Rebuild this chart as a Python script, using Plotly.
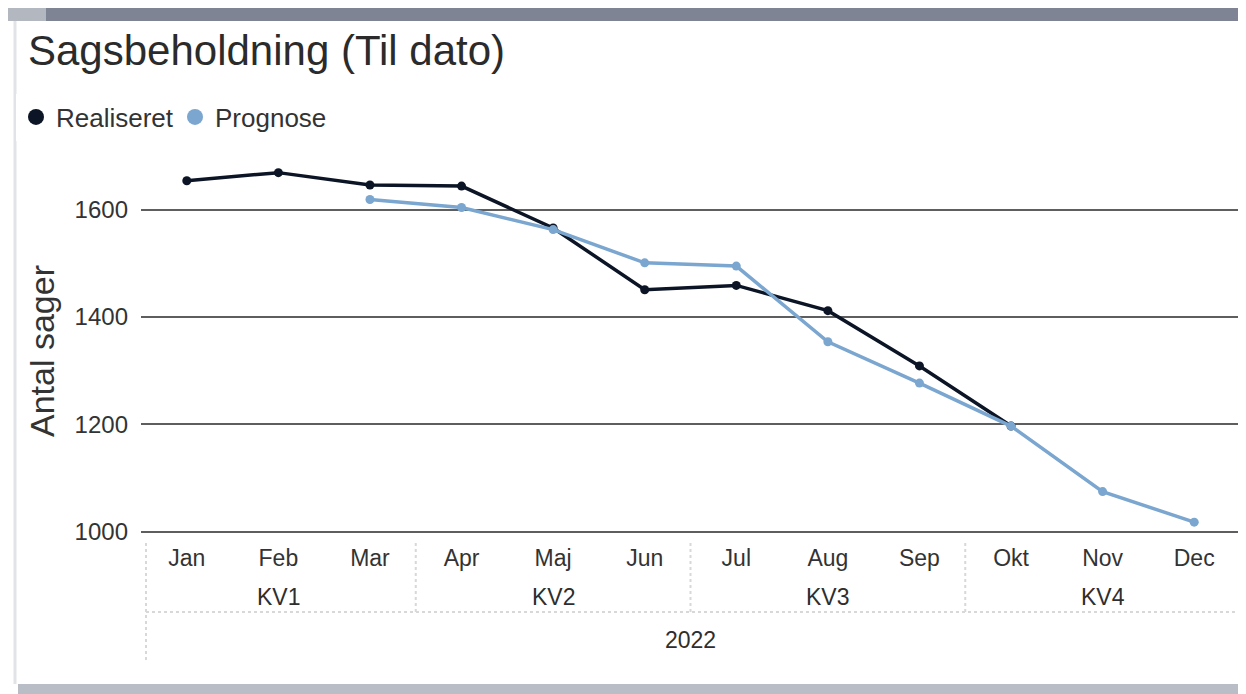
import plotly.graph_objects as go

# data
months = ["Jan", "Feb", "Mar", "Apr", "Maj", "Jun", "Jul", "Aug", "Sep", "Okt", "Nov", "Dec"]
quarters = ["KV1", "KV2", "KV3", "KV4"]
quarter_centers = ["Feb", "Maj", "Aug", "Nov"]
year_label = "2022"
realiseret = [1654, 1669, 1646, 1644, 1566, 1451, 1459, 1412, 1309, 1197, None, None]
prognose = [None, None, 1619, 1604, 1563, 1501, 1495, 1354, 1277, 1197, 1075, 1018]
y_ticks = [1000, 1200, 1400, 1600]

# the page body has an 8px margin, so the figure is drawn 8px smaller and all
# pixel positions below are given in window pixels and shifted by OFF
OFF = 8
W, H = 1246 - OFF, 694 - OFF
L, R, T, B = 141, 1240, 156, 534   # plot area in window pixels
FONT = "Liberation Sans, Arial, sans-serif"
DARK = "#0c1526"
LIGHT = "#7aa6cf"


def px(x):
    return (x - L) / (R - L)


def py(y):
    return (B - y) / (B - T)


fig = go.Figure()

fig.add_trace(go.Scatter(
    x=months, y=realiseret, mode="lines+markers", name="Realiseret",
    line=dict(color=DARK, width=3.5), marker=dict(color=DARK, size=9),
    showlegend=False, connectgaps=False))
fig.add_trace(go.Scatter(
    x=months, y=prognose, mode="lines+markers", name="Prognose",
    line=dict(color=LIGHT, width=3.5), marker=dict(color=LIGHT, size=9),
    showlegend=False, connectgaps=False))

# legend entries (dot only, like the reference)
for name, col in [("Realiseret", DARK), ("Prognose", LIGHT)]:
    fig.add_trace(go.Scatter(x=[None], y=[None], mode="markers", name=name,
                             marker=dict(color=col, size=16)))

shapes = []
# frame: dark band on top, grey band at the bottom, thin side edges
shapes.append(dict(type="rect", xref="paper", yref="paper", x0=px(8), x1=px(46),
                   y0=py(21), y1=py(8), fillcolor="#b3b7c0", line_width=0, layer="below"))
shapes.append(dict(type="rect", xref="paper", yref="paper", x0=px(46), x1=px(1246),
                   y0=py(21), y1=py(8), fillcolor="#7e8494", line_width=0, layer="below"))
shapes.append(dict(type="rect", xref="paper", yref="paper", x0=px(18), x1=px(1246),
                   y0=py(694), y1=py(684), fillcolor="#b9bdc5", line_width=0, layer="below"))
shapes.append(dict(type="line", xref="paper", yref="paper", x0=px(15), x1=px(15),
                   y0=py(684), y1=py(21), line=dict(color="#e2e3e6", width=3), layer="below"))
shapes.append(dict(type="line", xref="paper", yref="paper", x0=px(1241), x1=px(1241),
                   y0=py(684), y1=py(21), line=dict(color="#e6e7ea", width=2), layer="below"))

# dotted dividers of the hierarchical axis
dot = dict(color="#d8d8d8", width=2, dash="dot")
shapes.append(dict(type="line", xref="paper", yref="paper", x0=px(146), x1=px(1237),
                   y0=py(612), y1=py(612), line=dot))
shapes.append(dict(type="line", xref="paper", yref="paper", x0=px(146), x1=px(146),
                   y0=py(660), y1=py(540), line=dot))
for k in (3, 6, 9):
    shapes.append(dict(type="line", xref="x domain", yref="paper", x0=k / 12, x1=k / 12,
                       y0=py(612), y1=py(540), line=dot))

annotations = []
for q, m in zip(quarters, quarter_centers):
    annotations.append(dict(x=m, xref="x", y=py(597), yref="paper", text=q,
                            showarrow=False, font=dict(family=FONT, size=23, color="#2e2e2e"),
                            yanchor="middle"))
annotations.append(dict(x=0.5, xref="paper", y=py(640), yref="paper", text=year_label,
                        showarrow=False, font=dict(family=FONT, size=23, color="#2e2e2e"),
                        yanchor="middle"))
annotations.append(dict(x=px(42), xref="paper", y=py(351), yref="paper", text="Antal sager",
                        textangle=-90, showarrow=False, xanchor="center", yanchor="middle",
                        font=dict(family=FONT, size=34, color="#333333")))

fig.update_layout(
    width=W, height=H,
    margin=dict(l=L - OFF, r=W - (R - OFF), t=T - OFF, b=H - (B - OFF)),
    paper_bgcolor="white", plot_bgcolor="white",
    title=dict(text="Sagsbeholdning (Til dato)", x=(28 - OFF) / W, xanchor="left",
               y=1 - (50 - OFF) / H, yanchor="middle",
               font=dict(family=FONT, size=42, color="#2b2b2b")),
    legend=dict(orientation="h", x=px(16), xanchor="left", y=py(117), yanchor="middle",
                font=dict(family=FONT, size=26, color="#333333"),
                tracegroupgap=0, itemwidth=30, entrywidth=114, entrywidthmode="pixels"),
    shapes=shapes, annotations=annotations,
    xaxis=dict(type="category", categoryorder="array", categoryarray=months,
               range=[-0.5, 11.5], showgrid=False, zeroline=False, showline=False,
               ticks="", ticklabelstandoff=8,
               tickfont=dict(family=FONT, size=23, color="#333333"), fixedrange=True),
    yaxis=dict(range=[996, 1700], tickvals=y_ticks, showgrid=True,
               gridcolor="#5e5e5e", gridwidth=2, zeroline=False, showline=False,
               ticks="", ticklabelstandoff=12,
               tickfont=dict(family=FONT, size=24, color="#333333"), fixedrange=True),
    showlegend=True,
)

fig.write_html("out.html")
